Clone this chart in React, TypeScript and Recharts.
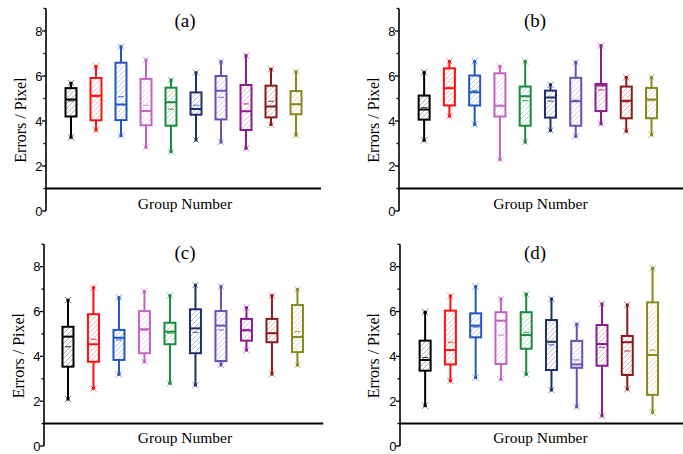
import React from 'react';
import { ComposedChart, Bar, XAxis, YAxis, ReferenceLine } from 'recharts';

const GROUPS = [1, 2, 3, 4, 5, 6, 7, 8, 9, 10];
const COLORS = ['#000000', '#ff1010', '#2556be', '#c066c0', '#1b8a3e', '#1f3068', '#6a50b4', '#8a1e8a', '#8c1a1a', '#88881f'];
const Y_TICKS = [0, 1, 2, 3, 4, 5, 6, 7, 8, 9];
const MAJOR_TICKS = [0, 2, 4, 6, 8];

// Panel (a)
const aMax = [5.68, 6.43, 7.30, 6.71, 5.82, 6.15, 6.64, 6.90, 6.30, 6.19];
const aQ3 = [5.46, 5.91, 6.59, 5.87, 5.48, 5.27, 6.00, 5.60, 5.57, 5.33];
const aMed = [4.96, 5.12, 4.73, 4.44, 4.83, 4.53, 5.35, 4.43, 4.64, 4.74];
const aMean = [4.89, 5.08, 5.08, 4.70, 4.53, 4.70, 5.05, 4.76, 4.87, 4.76];
const aQ1 = [4.20, 4.03, 4.04, 3.81, 3.79, 4.28, 4.07, 3.60, 4.16, 4.30];
const aMin = [3.28, 3.60, 3.35, 2.83, 2.64, 3.16, 3.07, 2.79, 3.84, 3.38];

// Panel (b)
const bMax = [6.16, 6.65, 6.65, 6.43, 6.65, 5.61, 6.61, 7.35, 5.94, 5.94];
const bQ3 = [5.13, 6.34, 6.02, 6.12, 5.53, 5.35, 5.92, 5.65, 5.53, 5.47];
const bMed = [4.51, 5.46, 5.28, 4.68, 5.10, 5.04, 4.88, 5.58, 4.90, 4.96];
const bMean = [4.60, 5.50, 5.35, 4.70, 4.91, 4.88, 4.93, 5.38, 4.85, 4.90];
const bQ1 = [4.06, 4.69, 4.69, 4.20, 3.79, 4.15, 3.79, 4.44, 4.12, 4.12];
const bMin = [3.14, 4.22, 3.85, 2.29, 3.07, 3.58, 3.32, 3.88, 3.55, 3.39];

// Panel (c)
const cMax = [6.51, 7.06, 6.62, 6.89, 6.71, 7.18, 7.11, 6.17, 6.71, 6.99];
const cQ3 = [5.32, 5.88, 5.18, 6.02, 5.50, 6.10, 6.02, 5.67, 5.67, 6.29];
const cMed = [4.88, 4.54, 4.83, 5.21, 5.10, 5.25, 5.37, 5.16, 5.03, 4.86];
const cMean = [4.43, 4.76, 4.73, 5.16, 5.03, 5.07, 5.18, 5.20, 5.03, 5.10];
const cQ1 = [3.54, 3.76, 3.84, 4.14, 4.54, 4.14, 3.79, 4.70, 4.63, 4.19];
const cMin = [2.10, 2.57, 3.20, 3.76, 2.80, 2.72, 3.61, 4.28, 3.21, 3.61];

// Panel (d)
const dMax = [5.97, 6.69, 7.11, 6.56, 6.77, 6.56, 5.43, 6.34, 6.29, 7.93];
const dQ3 = [4.70, 6.04, 5.92, 5.97, 5.97, 5.62, 4.69, 5.40, 4.91, 6.41];
const dMed = [3.84, 4.28, 5.37, 5.59, 4.95, 4.65, 3.64, 4.55, 4.63, 4.06];
const dMean = [3.95, 4.63, 5.30, 4.95, 5.07, 4.51, 3.84, 4.40, 4.24, 4.28];
const dQ1 = [3.36, 3.64, 4.85, 3.66, 4.34, 3.39, 3.49, 3.58, 3.17, 2.28];
const dMin = [1.80, 2.91, 3.05, 2.98, 3.20, 2.50, 1.75, 1.35, 2.54, 1.50];

type Row = { g: number; i: number; min: number; q1: number; med: number; mean: number; q3: number; max: number };

function buildRows(min: number[], q1: number[], med: number[], mean: number[], q3: number[], max: number[]): Row[] {
  return GROUPS.map((g, i) => ({ g, i, min: min[i], q1: q1[i], med: med[i], mean: mean[i], q3: q3[i], max: max[i] }));
}

const rowsA = buildRows(aMin, aQ1, aMed, aMean, aQ3, aMax);
const rowsB = buildRows(bMin, bQ1, bMed, bMean, bQ3, bMax);
const rowsC = buildRows(cMin, cQ1, cMed, cMean, cQ3, cMax);
const rowsD = buildRows(dMin, dQ1, dMed, dMean, dQ3, dMax);

const BoxShape = (props: any) => {
  const { x, y, width, height, payload, hatchId } = props;
  if (!payload || x == null || y == null) return null;
  const top = Math.min(y, y + height);
  const bot = Math.max(y, y + height);
  const { min, q1, med, mean, q3, max, i } = payload as Row;
  const py = (v: number) => top + ((max - v) / (max - min)) * (bot - top);
  const cx = x + width / 2;
  const c = COLORS[i];
  const id = `${hatchId}-${i}`;
  const bx = x + 1;
  const bw = width - 2;
  const yQ3 = py(q3);
  const yQ1 = py(q1);
  const cross = (yy: number) => (
    <g>
      <line x1={cx - 3.2} y1={yy - 3.2} x2={cx + 3.2} y2={yy + 3.2} stroke={c} strokeWidth={1} strokeOpacity={0.55} />
      <line x1={cx - 3.2} y1={yy + 3.2} x2={cx + 3.2} y2={yy - 3.2} stroke={c} strokeWidth={1} strokeOpacity={0.55} />
      <circle cx={cx} cy={yy} r={1.7} fill={c} />
    </g>
  );
  return (
    <g>
      <defs>
        <pattern id={id} patternUnits="userSpaceOnUse" width={5} height={5}>
          <path d="M-1,1 L1,-1 M0,5 L5,0 M4,6 L6,4" stroke={c} strokeWidth={0.8} strokeOpacity={0.38} />
        </pattern>
      </defs>
      <line x1={cx} x2={cx} y1={top} y2={yQ3} stroke={c} strokeWidth={2} />
      <line x1={cx} x2={cx} y1={yQ1} y2={bot} stroke={c} strokeWidth={2} />
      <rect x={bx} y={yQ3} width={bw} height={yQ1 - yQ3} fill="#fff" />
      <rect x={bx} y={yQ3} width={bw} height={yQ1 - yQ3} fill={`url(#${id})`} stroke={c} strokeWidth={2} />
      <line x1={bx} x2={bx + bw} y1={py(med)} y2={py(med)} stroke={c} strokeWidth={2} />
      <line x1={cx - 3} x2={cx + 3} y1={py(mean)} y2={py(mean)} stroke={c} strokeWidth={1.2} strokeOpacity={0.7} />
      {cross(top)}
      {cross(bot)}
    </g>
  );
};

const YTick = (props: any) => {
  const { x, y, payload } = props;
  const v = payload.value;
  const major = MAJOR_TICKS.includes(v);
  return (
    <g>
      <line x1={x - (major ? 4 : 2.5)} x2={x} y1={y} y2={y} stroke="#000" strokeWidth={1.3} />
      {major && (
        <text x={x - 3.5} y={y} dy="0.36em" textAnchor="end" fontFamily="'Liberation Sans', Arial, sans-serif" fontSize={13} fill="#000">
          {v}
        </text>
      )}
    </g>
  );
};

type PanelProps = {
  left: number; top: number; width: number; height: number;
  margin: { top: number; right: number; bottom: number; left: number };
  xDomain: [number, number]; rows: Row[]; hatchId: string;
};

function Panel({ left, top, width, height, margin, xDomain, rows, hatchId }: PanelProps) {
  return (
    <div style={{ position: 'absolute', left, top, width, height }}>
      <ComposedChart width={width} height={height} data={rows} margin={margin}>
        <XAxis type="number" dataKey="g" domain={xDomain} hide allowDataOverflow />
        <YAxis
          type="number"
          domain={[0, 9]}
          ticks={Y_TICKS}
          interval={0}
          width={40}
          tickSize={0}
          tickMargin={0}
          tickLine={false}
          tick={(p: any) => <YTick {...p} />}
          axisLine={{ stroke: '#000', strokeWidth: 1.6 }}
          allowDataOverflow
        />
        <ReferenceLine y={1} stroke="#000" strokeWidth={2} />
        <Bar
          dataKey={(d: Row) => [d.min, d.max]}
          barSize={13}
          isAnimationActive={false}
          shape={(p: any) => <BoxShape {...p} hatchId={hatchId} />}
        />
      </ComposedChart>
    </div>
  );
}

const serif = "'Liberation Serif', 'Times New Roman', serif";

export default function App() {
  return (
    <div style={{ position: 'absolute', left: 0, top: 0, width: 683, height: 454, background: '#fff', overflow: 'hidden' }}>
      <Panel left={0} top={0} width={340} height={227} margin={{ top: 8.5, right: 19, bottom: 16, left: 6 }} xDomain={[0, 11]} rows={rowsA} hatchId="ha" />
      <Panel left={340} top={0} width={343} height={227} margin={{ top: 8.5, right: 0, bottom: 16, left: 19 }} xDomain={[0, 11.24]} rows={rowsB} hatchId="hb" />
      <Panel left={0} top={227} width={340} height={227} margin={{ top: 17.3, right: 16.8, bottom: 8, left: 4 }} xDomain={[0.05, 11]} rows={rowsC} hatchId="hc" />
      <Panel left={340} top={227} width={343} height={227} margin={{ top: 17.3, right: 0, bottom: 8, left: 20 }} xDomain={[0, 11.2]} rows={rowsD} hatchId="hd" />
      <svg width={683} height={454} style={{ position: 'absolute', left: 0, top: 0, pointerEvents: 'none' }}>
        <g fontFamily={serif} fill="#000">
          <text x={185} y={27} fontSize={19} textAnchor="middle">(a)</text>
          <text x={535} y={27} fontSize={19} textAnchor="middle">(b)</text>
          <text x={185} y={258.7} fontSize={19} textAnchor="middle">(c)</text>
          <text x={535} y={258.7} fontSize={19} textAnchor="middle">(d)</text>
          <text x={185} y={209} fontSize={15.5} textAnchor="middle">Group Number</text>
          <text x={540.5} y={209} fontSize={15.5} textAnchor="middle">Group Number</text>
          <text x={185} y={443} fontSize={15.5} textAnchor="middle">Group Number</text>
          <text x={540.5} y={443} fontSize={15.5} textAnchor="middle">Group Number</text>
          <text transform="translate(25.5,120) rotate(-90)" fontSize={16} textAnchor="middle">Errors / Pixel</text>
          <text transform="translate(378.5,120) rotate(-90)" fontSize={16} textAnchor="middle">Errors / Pixel</text>
          <text transform="translate(23.5,355.6) rotate(-90)" fontSize={16} textAnchor="middle">Errors / Pixel</text>
          <text transform="translate(378.5,355.7) rotate(-90)" fontSize={16} textAnchor="middle">Errors / Pixel</text>
        </g>
      </svg>
    </div>
  );
}
